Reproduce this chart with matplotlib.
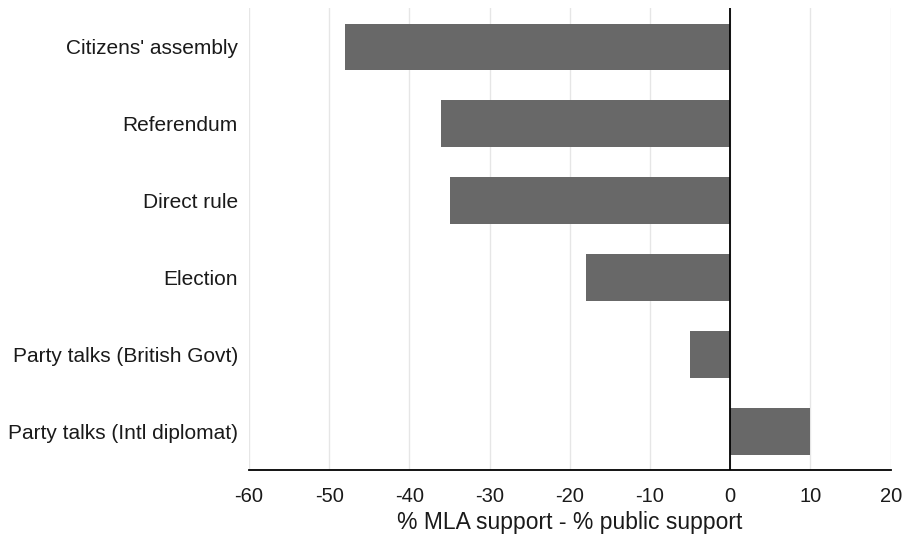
import matplotlib
matplotlib.use("Agg")
import matplotlib.pyplot as plt

categories = ["Citizens' assembly", "Referendum", "Direct rule", "Election",
              "Party talks (British Govt)", "Party talks (Intl diplomat)"]
values = [-48, -36, -35, -18, -5, 10]
xticks = [-60, -50, -40, -30, -20, -10, 0, 10, 20]

plt.rcParams['font.family'] = ['Liberation Sans', 'DejaVu Sans']

fig = plt.figure(figsize=(9.07, 5.42), dpi=100)
ax = fig.add_axes([0.2745, 0.133, 0.7075, 0.852])

y = list(range(len(categories)))
ax.barh(y, values, height=0.6, color='#686868', zorder=3)

ax.set_xlim(-60, 20)
ax.set_ylim(len(categories) - 0.5, -0.5)
ax.set_xticks(xticks)
ax.set_xticklabels([str(t) for t in xticks], fontsize=14.5, color='#1a1a1a')
ax.set_yticks(y)
ax.set_yticklabels(categories, fontsize=15, color='#1a1a1a')
ax.tick_params(length=0)
ax.tick_params(axis='y', pad=8)
ax.tick_params(axis='x', pad=12)

ax.grid(axis='x', color='#e6e6e6', linewidth=1, zorder=0)
ax.axvline(0, color='black', linewidth=1.3, zorder=4)

for s in ['top', 'right', 'left']:
    ax.spines[s].set_visible(False)
ax.spines['bottom'].set_linewidth(1.3)

ax.set_xlabel('% MLA support - % public support', fontsize=16.5,
              color='#1a1a1a', labelpad=4)

fig.savefig('out.png', dpi=100)
